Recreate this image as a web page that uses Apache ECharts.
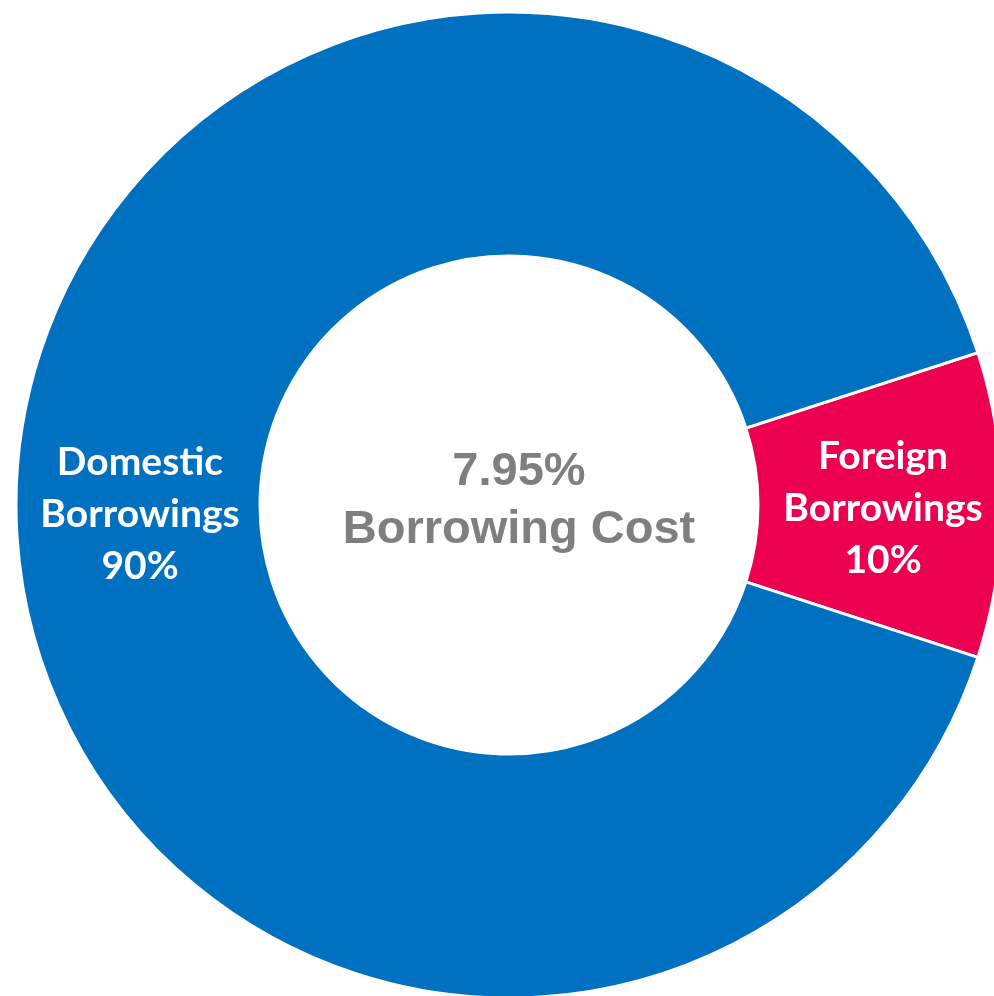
<!DOCTYPE html>
<html>
<head>
<meta charset="utf-8">
<script src="https://cdn.jsdelivr.net/npm/echarts@6/dist/echarts.min.js"></script>
<style>
  html, body { margin: 0; padding: 0; background: #ffffff; }
  #chart { width: 994px; height: 996px; }
</style>
</head>
<body>
<div id="chart"></div>
<script>
// Borrowing mix by source (share of total, %)
const categories = ['Foreign\nBorrowings', 'Domestic\nBorrowings'];
const shares = [10, 90];
const colors = ['#EE0050', '#0070C0'];
const centerLines = ['7.95%', 'Borrowing Cost'];

// small nudges so each label sits centred in its band
const labelOffsets = [[0, 3], [5, 9]];

const chart = echarts.init(document.getElementById('chart'), null, { renderer: 'canvas' });

chart.setOption({
  backgroundColor: '#ffffff',
  animation: false,
  title: {
    text: centerLines.join('\n'),
    left: 514,
    top: 438,
    textAlign: 'center',
    textStyle: {
      fontFamily: '"Liberation Sans", Arial, sans-serif',
      fontWeight: 'bold',
      fontSize: 47,
      lineHeight: 58,
      color: '#7F7F7F'
    }
  },
  series: [{
    type: 'pie',
    center: [509, 505],
    radius: [249, 493],
    startAngle: 18,
    clockwise: true,
    avoidLabelOverlap: false,
    itemStyle: { borderColor: '#ffffff', borderWidth: 3 },
    label: {
      show: true,
      position: 'inside',
      formatter: p => p.name + '\n' + p.value + '%',
      color: '#ffffff',
      fontFamily: 'Lato, "Open Sans", sans-serif',
      fontWeight: 'bold',
      fontSize: 39,
      lineHeight: 52
    },
    labelLine: { show: false },
    emphasis: { disabled: true },
    data: categories.map((name, i) => ({
      name: name,
      value: shares[i],
      itemStyle: { color: colors[i] },
      label: { offset: labelOffsets[i] }
    }))
  }]
});
</script>
</body>
</html>
